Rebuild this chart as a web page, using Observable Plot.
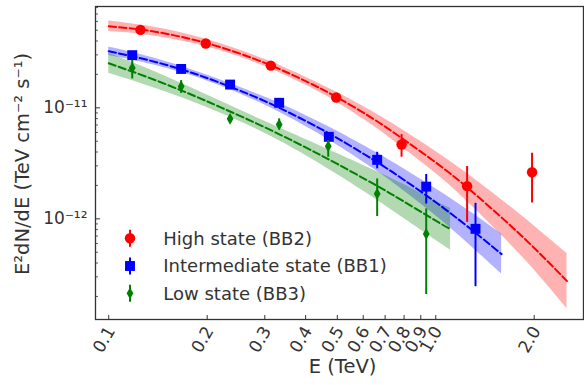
<!DOCTYPE html>
<html><head><meta charset="utf-8">
<script src="https://cdn.jsdelivr.net/npm/d3@7"></script>
<script src="https://cdn.jsdelivr.net/npm/@observablehq/plot@0.6"></script>
<style>
html,body{margin:0;padding:0;background:#fff;}
#chart{width:584px;height:385px;}
</style>
</head><body><div id="chart"></div>
<script>
// ---- data ----
const seriesNames = ["High state (BB2)", "Intermediate state (BB1)", "Low state (BB3)"];
const seriesColors = ["#ff0000", "#0000ff", "#008000"];
const seriesSymbols = ["circle", "square", "diamond"];

// High state (BB2) flux points
const highE  = [0.125, 0.198, 0.313, 0.496, 0.786, 1.247, 1.97];
const highF  = [5.04e-11, 3.8e-11, 2.4e-11, 1.24e-11, 4.67e-12, 1.97e-12, 2.63e-12];
const highLo = [4.85e-11, 3.65e-11, 2.3e-11, 1.18e-11, 3.59e-12, 9.3e-13, 1.39e-12];
const highHi = [5.25e-11, 3.95e-11, 2.5e-11, 1.3e-11, 5.74e-12, 2.96e-12, 3.9e-12];

// Intermediate state (BB1) flux points
const midE  = [0.118, 0.1665, 0.235, 0.332, 0.471, 0.662, 0.935, 1.323];
const midF  = [2.98e-11, 2.24e-11, 1.62e-11, 1.11e-11, 5.48e-12, 3.4e-12, 1.95e-12, 8.13e-13];
const midLo = [2.9e-11, 2.18e-11, 1.57e-11, 1.07e-11, 5.2e-12, 2.82e-12, 1.36e-12, 2.45e-13];
const midHi = [3.06e-11, 2.3e-11, 1.67e-11, 1.15e-11, 5.8e-12, 3.98e-12, 2.51e-12, 1.38e-12];

// Low state (BB3) flux points
const lowE  = [0.118, 0.1665, 0.235, 0.332, 0.469, 0.662, 0.935];
const lowF  = [2.29e-11, 1.56e-11, 7.96e-12, 7.07e-12, 4.51e-12, 1.68e-12, 7.32e-13];
const lowLo = [1.82e-11, 1.35e-11, 7.5e-12, 6.34e-12, 3.59e-12, 1.05e-12, 2.08e-13];
const lowHi = [2.67e-11, 1.76e-11, 8.45e-12, 7.96e-12, 5.07e-12, 2.29e-12, 1.23e-12];

// fitted models (dashed) and their uncertainty band half-width (dex)
const highFitE = [0.1, 0.13, 0.17, 0.22, 0.3, 0.4, 0.5, 0.65, 0.8, 1.0, 1.25, 1.6, 2.0, 2.52];
const highFit  = [5.43e-11, 4.99e-11, 4.30e-11, 3.51e-11, 2.54e-11, 1.74e-11, 1.24e-11, 7.82e-12, 5.15e-12, 3.22e-12, 1.91e-12, 1.01e-12, 5.47e-13, 2.75e-13];
const highBand = [0.048, 0.041, 0.036, 0.032, 0.032, 0.036, 0.045, 0.063, 0.081, 0.099, 0.126, 0.162, 0.198, 0.248];

const midFitE = [0.1, 0.13, 0.17, 0.22, 0.3, 0.4, 0.5, 0.65, 0.8, 1.0, 1.25, 1.59];
const midFit  = [3.23e-11, 2.72e-11, 2.18e-11, 1.67e-11, 1.15e-11, 7.62e-12, 5.33e-12, 3.35e-12, 2.24e-12, 1.41e-12, 8.55e-13, 4.81e-13];
const midBand = [0.038, 0.032, 0.027, 0.027, 0.036, 0.050, 0.063, 0.081, 0.099, 0.122, 0.149, 0.18];

const lowFitE = [0.1, 0.13, 0.17, 0.22, 0.3, 0.4, 0.5, 0.65, 0.8, 1.0, 1.11];
const lowFit  = [2.52e-11, 1.91e-11, 1.40e-11, 1.01e-11, 6.68e-12, 4.40e-12, 3.12e-12, 2.04e-12, 1.43e-12, 9.62e-13, 8.07e-13];
const lowBand = [0.09, 0.077, 0.063, 0.054, 0.054, 0.072, 0.095, 0.126, 0.153, 0.176, 0.189];

// axis ticks
const xTicks = [0.1, 0.2, 0.3, 0.4, 0.5, 0.6, 0.7, 0.8, 0.9, 1.0, 2.0];
const xTickLabels = ["0.1", "0.2", "0.3", "0.4", "0.5", "0.6", "0.7", "0.8", "0.9", "1.0", "2.0"];
const yMajor = [1e-12, 1e-11];
const yMajorLabels = ["10\u207B\u00B9\u00B2", "10\u207B\u00B9\u00B9"];
const yMinor = [2e-13, 3e-13, 4e-13, 5e-13, 6e-13, 7e-13, 8e-13, 9e-13,
                2e-12, 3e-12, 4e-12, 5e-12, 6e-12, 7e-12, 8e-12, 9e-12,
                2e-11, 3e-11, 4e-11, 5e-11, 6e-11, 7e-11, 8e-11];
const xLabel = "E (TeV)";
const yLabel = "E\u00B2dN/dE (TeV cm\u207B\u00B2 s\u207B\u00B9)";

// ---- build tables ----
const pts = [[highE, highF, highLo, highHi], [midE, midF, midLo, midHi], [lowE, lowF, lowLo, lowHi]]
  .map(([E, F, L, H]) => E.map((e, i) => ({E: e, v: F[i], lo: L[i], hi: H[i]})));
const fits = [[highFitE, highFit, highBand], [midFitE, midFit, midBand], [lowFitE, lowFit, lowBand]]
  .map(([E, F, W]) => E.map((e, i) => ({E: e, v: F[i], lo: F[i] / Math.pow(10, W[i]), hi: F[i] * Math.pow(10, W[i])})));

const W = 584, H = 385, mL = 95, mR = 1, mT = 6, mB = 66;
const frameH = H - mT - mB, frameW = W - mL - mR;
const font = "DejaVu Sans";
const ink = "#333333";
const symR = s => s === "circle" ? 5.2 : s === "square" ? 5.6 : 3.55;

const marks = [];
fits.forEach((f, i) => marks.push(Plot.areaY(f, {x: "E", y1: "lo", y2: "hi", fill: seriesColors[i], fillOpacity: 0.3, curve: "natural"})));
fits.forEach((f, i) => marks.push(Plot.line(f, {x: "E", y: "v", stroke: seriesColors[i], strokeWidth: 2, strokeDasharray: "7.4,3.2", curve: "natural"})));
pts.forEach((p, i) => {
  marks.push(Plot.ruleX(p, {x: "E", y1: "lo", y2: "hi", stroke: seriesColors[i], strokeWidth: 2}));
  marks.push(Plot.dot(p, {x: "E", y: "v", symbol: seriesSymbols[i], r: symR(seriesSymbols[i]), fill: seriesColors[i], stroke: "none"}));
});
// ticks (inward)
marks.push(Plot.tickX(xTicks, {x: d => d, insetTop: frameH - 4, stroke: ink, strokeWidth: 1}));
marks.push(Plot.tickY(yMajor, {y: d => d, insetRight: frameW - 5, stroke: ink, strokeWidth: 1}));
marks.push(Plot.tickY(yMinor, {y: d => d, insetRight: frameW - 3, stroke: ink, strokeWidth: 0.8}));
// tick labels
marks.push(Plot.text(xTicks, {x: d => d, text: (d, i) => xTickLabels[i], frameAnchor: "bottom", dy: 11, dx: 7,
  rotate: -60, textAnchor: "end", fontSize: 17, fill: ink, fontFamily: font}));
marks.push(Plot.text(yMajor, {y: d => d, text: (d, i) => yMajorLabels[i], frameAnchor: "left", dx: -8,
  textAnchor: "end", fontSize: 17, fill: ink, fontFamily: font}));
// x axis label
marks.push(Plot.text([xLabel], {frameAnchor: "bottom", dy: 53, dx: 3, fontSize: 19.5, fill: ink, fontFamily: font}));
marks.push(Plot.frame({stroke: ink, strokeWidth: 1.3}));

const chart = Plot.plot({
  width: W, height: H,
  marginLeft: mL, marginRight: mR, marginTop: mT, marginBottom: mB,
  x: {type: "log", domain: [0.0911, 2.83], axis: null},
  y: {type: "log", domain: [1.24e-13, 8.18e-11], axis: null},
  style: {fontFamily: font, background: "white", color: ink, overflow: "visible"},
  marks
});
document.getElementById("chart").appendChild(chart);

const svg = d3.select(chart);
// y axis label (rotated)
svg.append("text").attr("transform", `translate(22,${mT + frameH / 2 + 1.5}) rotate(-90)`)
  .attr("text-anchor", "middle").attr("dy", "0.35em")
  .attr("font-family", font).attr("font-size", 19.5).attr("fill", ink).text(yLabel);

// legend (no frame, lower-left inside the axes)
const lg = svg.append("g").attr("font-family", font).attr("font-size", 18).attr("fill", ink).attr("text-anchor", "start");
const legendY = [238.3, 266, 293.3];
seriesNames.forEach((name, i) => {
  const y = legendY[i];
  lg.append("line").attr("x1", 130).attr("x2", 130).attr("y1", y - 8.5).attr("y2", y + 8.5)
    .attr("stroke", seriesColors[i]).attr("stroke-width", 2);
  const s = seriesSymbols[i];
  const sym = s === "circle" ? d3.symbolCircle : s === "square" ? d3.symbolSquare : d3.symbolDiamond;
  const r = symR(s);
  lg.append("path").attr("d", d3.symbol(sym, Math.PI * r * r)()).attr("transform", `translate(130,${y})`)
    .attr("fill", seriesColors[i]);
  lg.append("text").attr("x", 163.3).attr("y", y).attr("dy", "0.35em").attr("text-anchor", "start").text(name);
});
</script>
</body></html>
